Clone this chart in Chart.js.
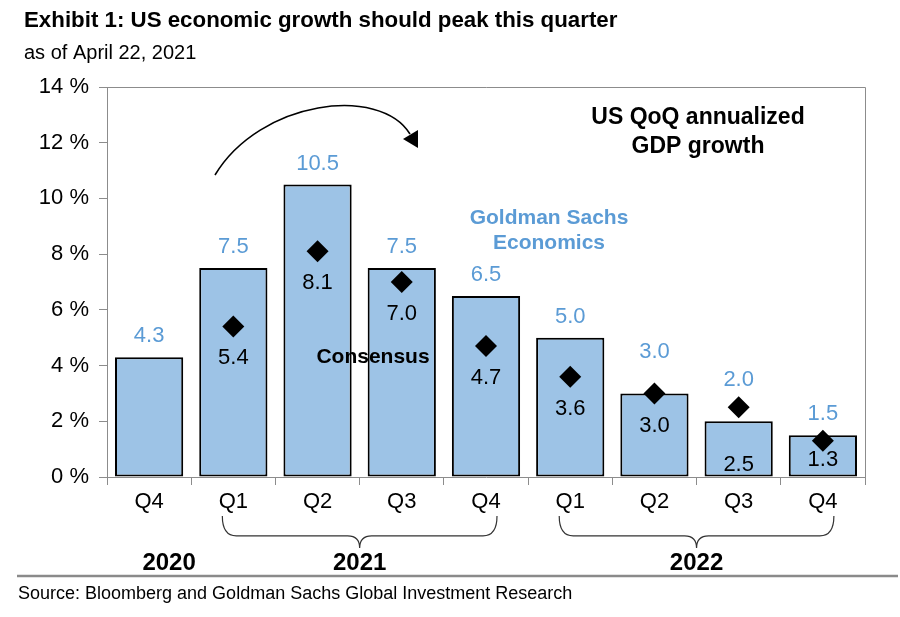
<!DOCTYPE html>
<html>
<head>
<meta charset="utf-8">
<title>US economic growth should peak this quarter</title>
<script src="https://cdn.jsdelivr.net/npm/chart.js@4.4.1/dist/chart.umd.min.js"></script>
<style>
  html, body { margin: 0; padding: 0; background: #fff; }
  #wrap { width: 900px; height: 617px; }
</style>
</head>
<body>
<div id="wrap"><canvas id="gdpChart" width="900" height="617"></canvas></div>
<script>
const quarters = ['Q4', 'Q1', 'Q2', 'Q3', 'Q4', 'Q1', 'Q2', 'Q3', 'Q4'];
const years = ['2020', '2021', '2022'];
const gsForecast = [4.3, 7.5, 10.5, 7.5, 6.5, 5.0, 3.0, 2.0, 1.5];
const consensus = [null, 5.4, 8.1, 7.0, 4.7, 3.6, 3.0, 2.5, 1.3];
const yTicks = [0, 2, 4, 6, 8, 10, 12, 14];

const FONT = '"Liberation Sans", Arial, Helvetica, sans-serif';
const BAR_BLUE = '#9DC3E6';
const TEXT_BLUE = '#5B9BD5';
const AXIS_GRAY = '#8c8c8c';

// label offsets (px): GS numbers above the bar top, consensus numbers below the diamond
const gsLabelDy = [21, 21, 21, 21, 21, 21, 41, 41, 21];
const consensusLabelDy = [0, 31, 32, 32, 32, 32, 33, 58, 19];

function text(ctx, str, x, y, size, opts = {}) {
  ctx.save();
  ctx.font = (opts.bold ? 'bold ' : '') + size + 'px ' + FONT;
  ctx.fillStyle = opts.color || '#000';
  ctx.textAlign = opts.align || 'center';
  ctx.textBaseline = 'middle';
  ctx.fillText(str, x, y);
  ctx.restore();
}

// Brace under a run of quarters, pointing down at the middle
function brace(ctx, x1, x2, top, depth) {
  const mid = (x1 + x2) / 2;
  const yMid = top + depth * 0.62;
  ctx.beginPath();
  ctx.moveTo(x1, top);
  ctx.quadraticCurveTo(x1, yMid, x1 + 14, yMid);
  ctx.lineTo(mid - 12, yMid);
  ctx.quadraticCurveTo(mid, yMid, mid, top + depth);
  ctx.quadraticCurveTo(mid, yMid, mid + 12, yMid);
  ctx.lineTo(x2 - 14, yMid);
  ctx.quadraticCurveTo(x2, yMid, x2, top);
  ctx.stroke();
}

const decorations = {
  id: 'decorations',
  beforeDatasetsDraw(chart) {
    const { ctx, chartArea: a } = chart;
    // frame on top and right
    ctx.save();
    ctx.strokeStyle = AXIS_GRAY;
    ctx.lineWidth = 1;
    ctx.beginPath();
    ctx.moveTo(a.left, a.top + 0.5);
    ctx.lineTo(a.right + 0.5, a.top + 0.5);
    ctx.lineTo(a.right + 0.5, a.bottom);
    ctx.stroke();
    ctx.restore();
  },
  afterDatasetsDraw(chart) {
    const { ctx } = chart;
    const bars = chart.getDatasetMeta(1).data;
    const dots = chart.getDatasetMeta(0).data;

    bars.forEach((b, i) => {
      text(ctx, gsForecast[i].toFixed(1), b.x, b.y - gsLabelDy[i], 22, { color: TEXT_BLUE });
    });
    dots.forEach((p, i) => {
      if (consensus[i] == null) return;
      text(ctx, consensus[i].toFixed(1), p.x, p.y + consensusLabelDy[i], 22);
    });
  },
  afterDraw(chart) {
    const { ctx } = chart;
    const x = chart.scales.x;

    // titles
    text(ctx, 'Exhibit 1: US economic growth should peak this quarter', 24, 21, 22.3, { bold: true, align: 'left' });
    text(ctx, 'as of April 22, 2021', 24, 53, 20, { align: 'left' });

    // annotations inside the plot
    text(ctx, 'US QoQ annualized', 698, 118, 23, { bold: true });
    text(ctx, 'GDP growth', 698, 147, 23, { bold: true });
    text(ctx, 'Goldman Sachs', 549, 218, 21, { bold: true, color: TEXT_BLUE });
    text(ctx, 'Economics', 549, 243, 21, { bold: true, color: TEXT_BLUE });
    text(ctx, 'Consensus', 373, 357, 21, { bold: true });

    // curved arrow over the peak
    ctx.save();
    ctx.strokeStyle = '#000';
    ctx.lineWidth = 1.6;
    ctx.beginPath();
    ctx.moveTo(215, 175);
    ctx.bezierCurveTo(260, 100, 380, 85, 410, 134);
    ctx.stroke();
    ctx.fillStyle = '#000';
    ctx.beginPath();
    ctx.moveTo(418, 148);
    ctx.lineTo(403, 139);
    ctx.lineTo(418, 130);
    ctx.closePath();
    ctx.fill();
    ctx.restore();

    // year braces
    ctx.save();
    ctx.strokeStyle = '#333';
    ctx.lineWidth = 1.2;
    brace(ctx, x.getPixelForValue(1) - 11, x.getPixelForValue(4) + 11, 516, 32);
    brace(ctx, x.getPixelForValue(5) - 11, x.getPixelForValue(8) + 11, 516, 32);
    ctx.restore();

    text(ctx, years[0], x.getPixelForValue(0) + 20, 563, 24, { bold: true });
    text(ctx, years[1], (x.getPixelForValue(1) + x.getPixelForValue(4)) / 2, 563, 24, { bold: true });
    text(ctx, years[2], (x.getPixelForValue(5) + x.getPixelForValue(8)) / 2, 563, 24, { bold: true });

    // separator and source
    ctx.save();
    ctx.strokeStyle = '#8a8a8a';
    ctx.lineWidth = 2.5;
    ctx.beginPath();
    ctx.moveTo(17, 576);
    ctx.lineTo(898, 576);
    ctx.stroke();
    ctx.restore();
    text(ctx, 'Source: Bloomberg and Goldman Sachs Global Investment Research', 18, 594, 18, { align: 'left' });
  }
};

new Chart(document.getElementById('gdpChart'), {
  type: 'bar',
  data: {
    labels: quarters,
    datasets: [
      {
        type: 'line',
        label: 'Consensus',
        data: consensus,
        showLine: false,
        pointStyle: 'rectRot',
        pointRadius: 11,
        pointBackgroundColor: '#000',
        pointBorderWidth: 0,
        order: 0
      },
      {
        label: 'Goldman Sachs Economics',
        data: gsForecast,
        backgroundColor: BAR_BLUE,
        borderColor: '#000',
        borderWidth: 2,
        borderSkipped: false,
        barPercentage: 0.81,
        categoryPercentage: 1,
        order: 1
      }
    ]
  },
  options: {
    responsive: false,
    animation: false,
    layout: { padding: { top: 87, right: 35, left: 0, bottom: 0 } },
    plugins: {
      legend: { display: false },
      tooltip: { enabled: false },
      title: { display: false }
    },
    scales: {
      x: {
        grid: { offset: true, drawOnChartArea: false, tickLength: 8, color: AXIS_GRAY },
        border: { color: AXIS_GRAY },
        ticks: { color: '#000', font: { family: FONT, size: 22 }, padding: 4, maxRotation: 0 },
        afterFit(s) { s.height = 140; }
      },
      y: {
        min: yTicks[0],
        max: yTicks[yTicks.length - 1],
        afterBuildTicks(s) { s.ticks = yTicks.map(v => ({ value: v })); },
        grid: { drawOnChartArea: false, tickLength: 8, color: AXIS_GRAY },
        border: { color: AXIS_GRAY },
        ticks: { color: '#000', font: { family: FONT, size: 22 }, padding: 10, callback: v => v + ' %' },
        afterFit(s) { s.width = 107; }
      }
    }
  },
  plugins: [decorations]
});
</script>
</body>
</html>
